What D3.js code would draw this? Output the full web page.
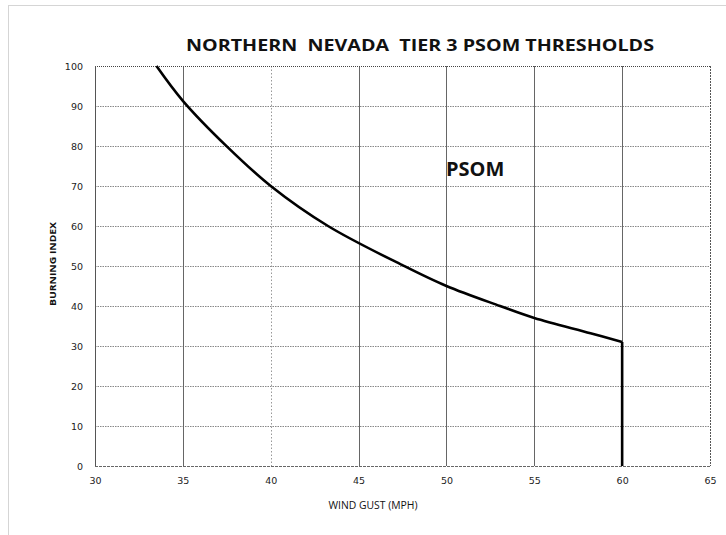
<!DOCTYPE html>
<html><head><meta charset="utf-8">
<script src="https://cdn.jsdelivr.net/npm/d3@7"></script>
<style>body{margin:0;background:#fff}svg{display:block}</style>
</head><body>
<script>
const gustValues = [33.5, 35, 37.5, 40, 43.26, 47.5, 50, 53.05, 55, 58.2, 60];
const biValues   = [100, 91.3, 79.9, 70, 60, 50.2, 45, 40, 37, 33.2, 31];
const dropGust = [60, 60];
const dropBI = [31, 0];
const xTicks = [30, 35, 40, 45, 50, 55, 60, 65];
const yTicks = [0, 10, 20, 30, 40, 50, 60, 70, 80, 90, 100];
const titleText = "NORTHERN  NEVADA  TIER 3 PSOM THRESHOLDS";
const regionLabel = "PSOM";
const xTitle = "WIND GUST (MPH)";
const yTitle = "BURNING INDEX";

const W = 726, H = 535;
const svg = d3.select("body").append("svg").attr("width", W).attr("height", H);
const L = 95, R = 710, T = 66, B = 466;
const x = d3.scaleLinear().domain([30, 65]).range([L, R]);
const y = d3.scaleLinear().domain([0, 100]).range([B, T]);

// outer frame
svg.append("rect").attr("x", 8.5).attr("y", 5.5).attr("width", 740).attr("height", 560)
  .attr("fill", "none").attr("stroke", "#aaa").attr("stroke-dasharray", "1,1");

// horizontal grid
svg.append("g").selectAll("line").data(yTicks.filter(d => d > 0 && d < 100)).join("line")
  .attr("x1", L).attr("x2", R).attr("y1", d => y(d) + 0.5).attr("y2", d => y(d) + 0.5)
  .attr("stroke", "#888").attr("stroke-dasharray", "1.5,1");
// vertical grid
svg.append("g").selectAll("line").data(xTicks.filter(d => d > 30 && d < 65)).join("line")
  .attr("x1", d => Math.round(x(d)) + 0.5).attr("x2", d => Math.round(x(d)) + 0.5)
  .attr("y1", T).attr("y2", B)
  .attr("stroke", d => d === 40 ? "#999" : "#666")
  .attr("stroke-dasharray", d => d === 40 ? "1.5,2" : null);

// top and right borders
svg.append("line").attr("x1", L).attr("x2", R).attr("y1", T + 0.5).attr("y2", T + 0.5)
  .attr("stroke", "#444").attr("stroke-dasharray", "1,1");
svg.append("line").attr("x1", R + 0.5).attr("x2", R + 0.5).attr("y1", T).attr("y2", B)
  .attr("stroke", "#555").attr("stroke-dasharray", "2,1");
// axes lines
svg.append("line").attr("x1", L + 0.5).attr("x2", L + 0.5).attr("y1", T).attr("y2", B)
  .attr("stroke", "#555");
svg.append("line").attr("x1", L).attr("x2", R).attr("y1", B + 0.5).attr("y2", B + 0.5)
  .attr("stroke", "#666").attr("stroke-dasharray", "3,1");

// tick labels via axes
const yAxis = svg.append("g").attr("transform", `translate(${L},0)`)
  .call(d3.axisLeft(y).tickValues(yTicks).tickSize(0).tickPadding(12));
const xAxis = svg.append("g").attr("transform", `translate(0,${B})`)
  .call(d3.axisBottom(x).tickValues(xTicks).tickSize(0).tickPadding(11));
[yAxis, xAxis].forEach(a => {
  a.select(".domain").remove();
  a.selectAll("text").attr("font-family", "DejaVu Sans, Verdana, sans-serif")
    .attr("font-size", 9.5).attr("fill", "#222");
});

// curve
const pts = gustValues.map((g, i) => [g, biValues[i]]);
svg.append("path").datum(pts)
  .attr("d", d3.line().x(d => x(d[0])).y(d => y(d[1])).curve(d3.curveCatmullRom.alpha(0.5)))
  .attr("fill", "none").attr("stroke", "#000").attr("stroke-width", 2.6);
const drop = dropGust.map((g, i) => [g, dropBI[i]]);
svg.append("path").datum(drop)
  .attr("d", d3.line().x(d => x(d[0])).y(d => y(d[1])))
  .attr("fill", "none").attr("stroke", "#000").attr("stroke-width", 2.6);

// texts
svg.append("text").attr("x", 186).attr("y", 51).attr("textLength", 468)
  .attr("lengthAdjust", "spacingAndGlyphs")
  .attr("font-family", "Open Sans, sans-serif").attr("font-weight", "bold")
  .attr("font-size", 16.5).attr("fill", "#111").style("white-space", "pre").text(titleText);
svg.append("text").attr("x", 446).attr("y", 176)
  .attr("font-family", "Open Sans, sans-serif").attr("font-weight", "bold")
  .attr("font-size", 20).attr("fill", "#111").text(regionLabel);
svg.append("text").attr("x", 373).attr("y", 509).attr("text-anchor", "middle")
  .attr("font-family", "Open Sans, sans-serif").attr("font-size", 10).attr("fill", "#111")
  .attr("textLength", 89).attr("lengthAdjust", "spacingAndGlyphs").text(xTitle);
svg.append("text").attr("transform", "translate(56,264) rotate(-90)").attr("text-anchor", "middle")
  .attr("font-family", "Open Sans, sans-serif").attr("font-weight", "bold").attr("font-size", 9.5)
  .attr("fill", "#111").attr("textLength", 84).attr("lengthAdjust", "spacingAndGlyphs").text(yTitle);
</script>
</body></html>
